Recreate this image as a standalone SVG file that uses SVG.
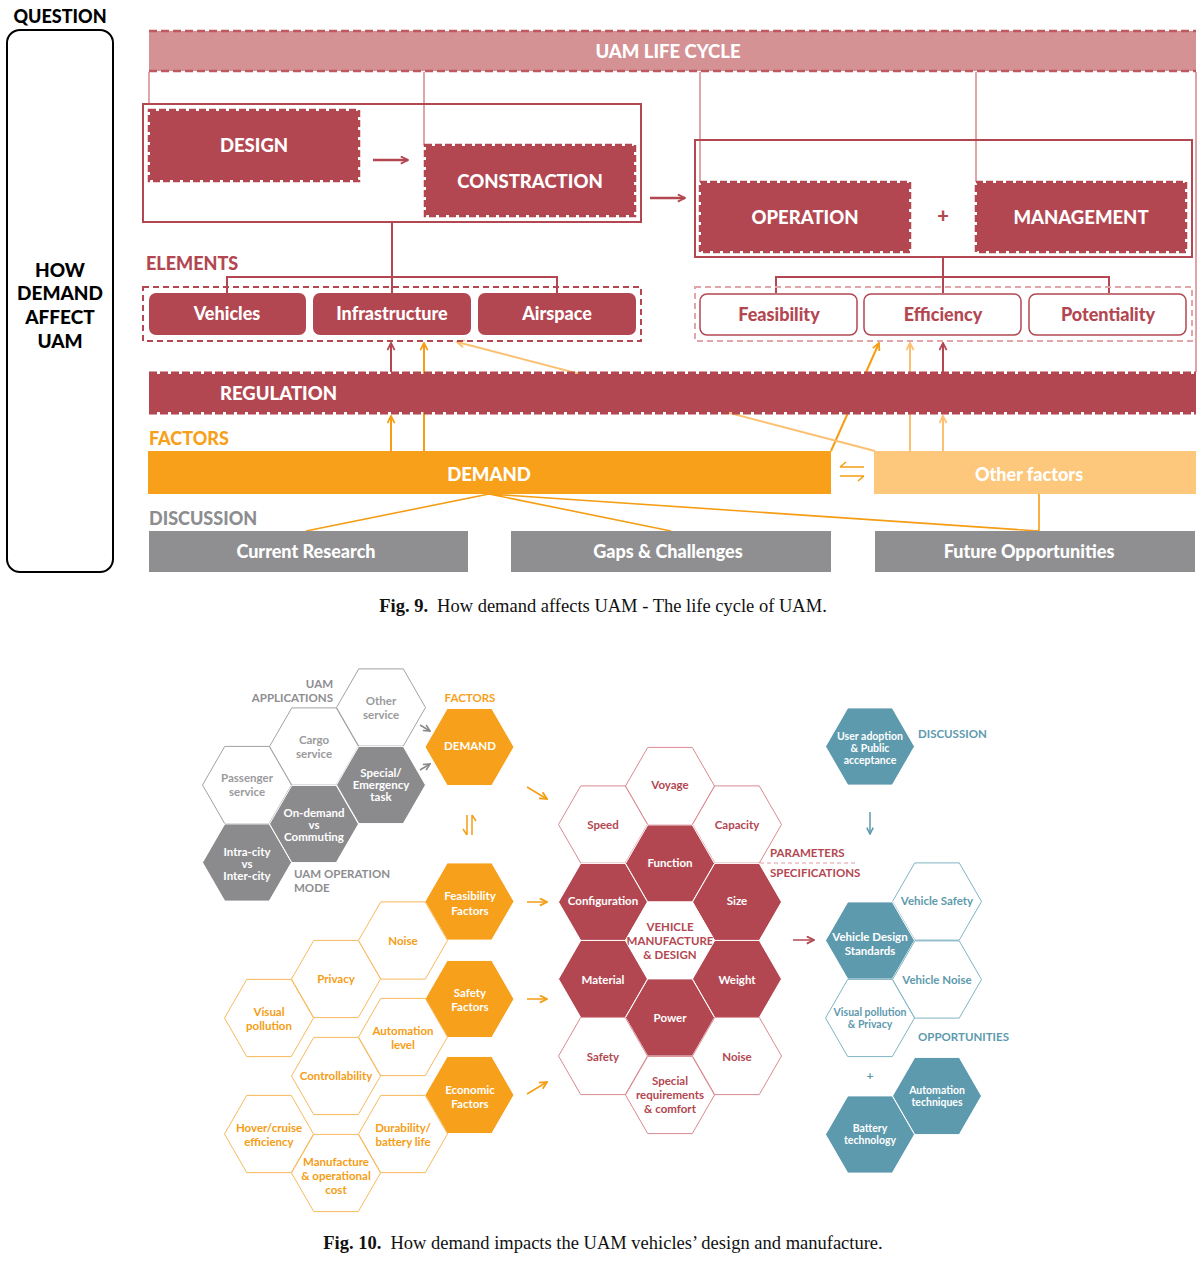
<svg xmlns="http://www.w3.org/2000/svg" width="1203" height="1261" viewBox="0 0 1203 1261">
<style>
.f{font-family:Lato,'Open Sans','DejaVu Sans',sans-serif;font-weight:700}
.k{font-weight:900}
.c{text-anchor:middle}
.big{font-size:18.5px}
.lb{font-size:18px}
.h{font-size:11.5px}
.hs{font-size:10.5px}
.w{fill:#fff}
.cap{font-family:'Liberation Serif','Times New Roman',serif;font-size:18.5px;fill:#111;text-anchor:middle}
.redbox{fill:#b34751}
.dashR{fill:none;stroke:#b34751;stroke-width:2.5;stroke-dasharray:7 3}
.thin{stroke:#d4898e;stroke-width:1.5;fill:none}
.hg-o{fill:#fff;stroke:#a2a2a4;stroke-width:1}
.hg-f{fill:#8b8b8e;stroke:#fff;stroke-width:1}
.ho-o{fill:#fff;stroke:#f8b95e;stroke-width:1}
.ho-f{fill:#f7a01c;stroke:#fff;stroke-width:1}
.hr-o{fill:#fff;stroke:#d98a91;stroke-width:1}
.hr-f{fill:#b34751;stroke:#fff;stroke-width:1}
.ht-o{fill:#fff;stroke:#7fb4c4;stroke-width:1}
.ht-f{fill:#5d9aad;stroke:#fff;stroke-width:1}
</style>
<defs>
<polygon id="hx" points="-44.5,0 -22.25,-38.6 22.25,-38.6 44.5,0 22.25,38.6 -22.25,38.6"/>
<marker id="aR" viewBox="0 0 10 10" refX="9" refY="5" markerWidth="9" markerHeight="9" orient="auto" markerUnits="userSpaceOnUse"><path d="M1,1 L9,5 L1,9" fill="none" stroke="#b34751" stroke-width="2"/></marker>
<marker id="aO" viewBox="0 0 10 10" refX="9" refY="5" markerWidth="9" markerHeight="9" orient="auto" markerUnits="userSpaceOnUse"><path d="M1,1 L9,5 L1,9" fill="none" stroke="#f59d14" stroke-width="2"/></marker>
<marker id="aL" viewBox="0 0 10 10" refX="9" refY="5" markerWidth="9" markerHeight="9" orient="auto" markerUnits="userSpaceOnUse"><path d="M1,1 L9,5 L1,9" fill="none" stroke="#fcc070" stroke-width="2"/></marker>
<marker id="aG" viewBox="0 0 10 10" refX="9" refY="5" markerWidth="8" markerHeight="8" orient="auto" markerUnits="userSpaceOnUse"><path d="M1,1 L9,5 L1,9" fill="none" stroke="#8a8a8a" stroke-width="2"/></marker>
<marker id="aT" viewBox="0 0 10 10" refX="9" refY="5" markerWidth="8" markerHeight="8" orient="auto" markerUnits="userSpaceOnUse"><path d="M1,1 L9,5 L1,9" fill="none" stroke="#5d9aad" stroke-width="2"/></marker>
</defs>
<rect width="1203" height="1261" fill="#fff"/>

<!-- ================= FIG 9 ================= -->
<g id="question">
<text class="f k" x="60" y="23" font-size="18" text-anchor="middle" fill="#000">QUESTION</text>
<rect x="7" y="30" width="106" height="542" rx="13" fill="none" stroke="#000" stroke-width="2"/>
<text class="f k c" font-size="19" fill="#000"><tspan x="60" y="277">HOW</tspan><tspan x="60" y="300">DEMAND</tspan><tspan x="60" y="324">AFFECT</tspan><tspan x="60" y="348">UAM</tspan></text>
</g>

<g id="uam-life-cycle">
<rect x="149" y="31" width="1047" height="40" fill="#d59295"/>
<line x1="149" y1="31" x2="1196" y2="31" stroke="#c05860" stroke-width="2.5" stroke-dasharray="8 4"/>
<line x1="149" y1="71" x2="1196" y2="71" stroke="#c05860" stroke-width="2.5" stroke-dasharray="8 4"/>
<text class="f k c w big" x="668" y="58">UAM LIFE CYCLE</text>
</g>

<g id="connectors">
<line class="thin" x1="149" y1="72" x2="149" y2="104"/>
<line class="thin" x1="424" y1="72" x2="424" y2="145"/>
<line class="thin" x1="700" y1="72" x2="700" y2="182"/>
<line class="thin" x1="976" y1="72" x2="976" y2="182"/>
<line class="thin" x1="1196" y1="72" x2="1196" y2="372"/>
<line x1="373" y1="160" x2="408" y2="160" stroke="#b34751" stroke-width="2.5" marker-end="url(#aR)"/>
<line x1="650" y1="198" x2="685" y2="198" stroke="#b34751" stroke-width="2.5" marker-end="url(#aR)"/>
<path d="M392,222 V277 M227,293 V277 H557 V293 M392,277 V293" fill="none" stroke="#b34751" stroke-width="2"/>
<path d="M943,257 V277 M776,293 V277 H1109 V293 M943,277 V293" fill="none" stroke="#b34751" stroke-width="2"/>
<line x1="391" y1="372" x2="391" y2="343" stroke="#b34751" stroke-width="2" marker-end="url(#aR)"/>
<line x1="943" y1="372" x2="943" y2="343" stroke="#b34751" stroke-width="2" marker-end="url(#aR)"/>
<line x1="391" y1="451" x2="391" y2="416" stroke="#f59d14" stroke-width="2" marker-end="url(#aO)"/>
<line x1="424" y1="451" x2="424" y2="343" stroke="#f59d14" stroke-width="2" marker-end="url(#aO)"/>
<line x1="831" y1="451" x2="879" y2="343" stroke="#f59d14" stroke-width="2" marker-end="url(#aO)"/>
<line x1="875" y1="451" x2="457" y2="342" stroke="#fcc070" stroke-width="2" marker-end="url(#aL)"/>
<line x1="910" y1="451" x2="910" y2="343" stroke="#fcc070" stroke-width="2" marker-end="url(#aL)"/>
<line x1="943" y1="451" x2="943" y2="416" stroke="#fcc070" stroke-width="2" marker-end="url(#aL)"/>
<path d="M840,467 H864 M840,467 L846,462" fill="none" stroke="#f59d14" stroke-width="1.6"/>
<path d="M840,476 H864 M864,476 L858,481" fill="none" stroke="#f59d14" stroke-width="1.6"/>
<path d="M489,494 L306,531 M489,494 L671,531 M489,494 L1039,531 M1039,494 V531" fill="none" stroke="#f59d14" stroke-width="1.6"/>
</g>

<g id="group-design-construction">
<rect x="143" y="104" width="498" height="118" fill="none" stroke="#b34751" stroke-width="2"/>
</g>
<g id="node-design">
<rect class="redbox" x="150" y="111" width="208" height="69"/>
<rect class="dashR" x="149" y="110" width="210" height="71"/>
<text class="f k c w big" x="254" y="152">DESIGN</text>
</g>
<g id="node-constraction">
<rect class="redbox" x="426" y="146" width="208" height="69"/>
<rect class="dashR" x="425" y="145" width="210" height="71"/>
<text class="f k c w big" x="530" y="188">CONSTRACTION</text>
</g>

<g id="group-operation-management">
<rect x="695" y="140" width="497" height="117" fill="none" stroke="#b34751" stroke-width="2"/>
<text class="f k c" x="943" y="223" font-size="20" fill="#b34751">+</text>
</g>
<g id="node-operation">
<rect class="redbox" x="701" y="183" width="208" height="68"/>
<rect class="dashR" x="700" y="182" width="210" height="70"/>
<text class="f k c w big" x="805" y="224">OPERATION</text>
</g>
<g id="node-management">
<rect class="redbox" x="977" y="183" width="208" height="68"/>
<rect class="dashR" x="976" y="182" width="210" height="70"/>
<text class="f k c w big" x="1081" y="224">MANAGEMENT</text>
</g>

<g id="elements">
<text class="f k lb" x="146" y="270" fill="#b34751">ELEMENTS</text>
<rect x="143" y="287" width="498" height="54" fill="none" stroke="#b34751" stroke-width="2" stroke-dasharray="6 4"/>
</g>
<g id="node-vehicles"><rect x="149" y="293" width="157" height="42" rx="7" fill="#b34751"/><text class="f k c w lb" x="227" y="320">Vehicles</text></g>
<g id="node-infrastructure"><rect x="313" y="293" width="158" height="42" rx="7" fill="#b34751"/><text class="f k c w lb" x="392" y="320">Infrastructure</text></g>
<g id="node-airspace"><rect x="478" y="293" width="158" height="42" rx="7" fill="#b34751"/><text class="f k c w lb" x="557" y="320">Airspace</text></g>

<g id="criteria">
<rect x="695" y="287" width="497" height="54" fill="none" stroke="#e2a6aa" stroke-width="2" stroke-dasharray="6 4"/>
</g>
<g id="node-feasibility"><rect x="700" y="294" width="157" height="41" rx="7" fill="#fff" stroke="#b34751" stroke-width="1.5"/><text class="f k c lb" x="779" y="321" fill="#b34751">Feasibility</text></g>
<g id="node-efficiency"><rect x="864" y="294" width="157" height="41" rx="7" fill="#fff" stroke="#b34751" stroke-width="1.5"/><text class="f k c lb" x="943" y="321" fill="#b34751">Efficiency</text></g>
<g id="node-potentiality"><rect x="1029" y="294" width="157" height="41" rx="7" fill="#fff" stroke="#b34751" stroke-width="1.5"/><text class="f k c lb" x="1108" y="321" fill="#b34751">Potentiality</text></g>

<g id="node-regulation">
<rect x="149" y="374" width="1047" height="38" fill="#b34751"/>
<line x1="149" y1="373" x2="1196" y2="373" stroke="#b34751" stroke-width="3" stroke-dasharray="8 3"/>
<line x1="149" y1="413" x2="1196" y2="413" stroke="#b34751" stroke-width="3" stroke-dasharray="8 3"/>
<text class="f k w big" x="220" y="400">REGULATION</text>
</g>

<g id="factors">
<text class="f k lb" x="149" y="445" fill="#f7a01c">FACTORS</text>
</g>
<g id="node-demand"><rect x="148" y="451" width="683" height="43" fill="#f9a01b"/><text class="f k c w big" x="489" y="481">DEMAND</text></g>
<g id="node-other-factors"><rect x="874" y="451" width="322" height="43" fill="#fdc77c"/><text class="f k c w lb" x="1029" y="481">Other factors</text></g>

<g id="discussion">
<text class="f k lb" x="149" y="525" fill="#8d8d90">DISCUSSION</text>
</g>
<g id="node-current-research"><rect x="149" y="531" width="319" height="41" fill="#8f8f92"/><text class="f k c w lb" x="306" y="558">Current Research</text></g>
<g id="node-gaps"><rect x="511" y="531" width="320" height="41" fill="#8f8f92"/><text class="f k c w lb" x="668" y="558">Gaps &amp; Challenges</text></g>
<g id="node-future"><rect x="875" y="531" width="320" height="41" fill="#8f8f92"/><text class="f k c w lb" x="1029" y="558">Future Opportunities</text></g>

<text class="cap" x="603" y="612"><tspan font-weight="700">Fig. 9.</tspan><tspan dx="9">How demand affects UAM - The life cycle of UAM.</tspan></text>

<!-- ================= FIG 10 ================= -->
<g id="fig10-connectors">
<line x1="420" y1="725" x2="430" y2="731" stroke="#8a8a8a" stroke-width="1.5" marker-end="url(#aG)"/>
<line x1="420" y1="770" x2="430" y2="764" stroke="#8a8a8a" stroke-width="1.5" marker-end="url(#aG)"/>
<path d="M467,815 V835 M467,835 L463,829" fill="none" stroke="#f59d14" stroke-width="1.5"/>
<path d="M472,835 V815 M472,815 L476,821" fill="none" stroke="#f59d14" stroke-width="1.5"/>
<line x1="527" y1="787" x2="547" y2="799" stroke="#f59d14" stroke-width="1.5" marker-end="url(#aO)"/>
<line x1="527" y1="902" x2="547" y2="902" stroke="#f59d14" stroke-width="1.5" marker-end="url(#aO)"/>
<line x1="527" y1="999" x2="547" y2="999" stroke="#f59d14" stroke-width="1.5" marker-end="url(#aO)"/>
<line x1="527" y1="1094" x2="547" y2="1082" stroke="#f59d14" stroke-width="1.5" marker-end="url(#aO)"/>
<line x1="793" y1="940" x2="814" y2="940" stroke="#b34751" stroke-width="1.5" marker-end="url(#aR)"/>
<line x1="870" y1="812" x2="870" y2="834" stroke="#5d9aad" stroke-width="1.5" marker-end="url(#aT)"/>
<line x1="760" y1="863" x2="858" y2="863" stroke="#e09aa0" stroke-width="1" stroke-dasharray="4 3"/>
</g>

<g id="label-uam-applications"><text class="f h" text-anchor="end" fill="#8d8d90"><tspan x="333" y="688">UAM</tspan><tspan x="333" y="702">APPLICATIONS</tspan></text></g>
<g id="hex-other-service"><use href="#hx" x="381" y="707.5" class="hg-o"/><text class="f c h" fill="#9a9a9c"><tspan x="381" y="705">Other</tspan><tspan x="381" y="719">service</tspan></text></g>
<g id="hex-cargo-service"><use href="#hx" x="314" y="746.5" class="hg-o"/><text class="f c h" fill="#9a9a9c"><tspan x="314" y="744">Cargo</tspan><tspan x="314" y="758">service</tspan></text></g>
<g id="hex-passenger-service"><use href="#hx" x="247" y="785" class="hg-o"/><text class="f c h" fill="#9a9a9c"><tspan x="247" y="782">Passenger</tspan><tspan x="247" y="796">service</tspan></text></g>
<g id="hex-special"><use href="#hx" x="381" y="785" class="hg-f"/><text class="f c h w"><tspan x="381" y="777">Special/</tspan><tspan x="381" y="789">Emergency</tspan><tspan x="381" y="801">task</tspan></text></g>
<g id="hex-on-demand"><use href="#hx" x="314" y="824" class="hg-f"/><text class="f c h w"><tspan x="314" y="817">On-demand</tspan><tspan x="314" y="829">vs</tspan><tspan x="314" y="841">Commuting</tspan></text></g>
<g id="hex-intra-city"><use href="#hx" x="247" y="862.5" class="hg-f"/><text class="f c h w"><tspan x="247" y="856">Intra-city</tspan><tspan x="247" y="868">vs</tspan><tspan x="247" y="880">Inter-city</tspan></text></g>
<g id="label-uam-operation-mode"><text class="f h" fill="#8d8d90"><tspan x="294" y="878">UAM OPERATION</tspan><tspan x="294" y="892">MODE</tspan></text></g>

<g id="label-factors"><text class="f c h" x="470" y="702" fill="#f7a01c">FACTORS</text></g>
<g id="hex-demand"><use href="#hx" x="469.5" y="747" class="ho-f"/><text class="f c h w" x="470" y="750">DEMAND</text></g>
<g id="hex-feasibility-factors"><use href="#hx" x="469.5" y="901.5" class="ho-f"/><text class="f c h w"><tspan x="470" y="900">Feasibility</tspan><tspan x="470" y="915">Factors</tspan></text></g>
<g id="hex-noise-o"><use href="#hx" x="403" y="940.5" class="ho-o"/><text class="f c h" x="403" y="945" fill="#f59d14">Noise</text></g>
<g id="hex-privacy"><use href="#hx" x="336" y="979" class="ho-o"/><text class="f c h" x="336" y="983" fill="#f59d14">Privacy</text></g>
<g id="hex-visual-pollution"><use href="#hx" x="269" y="1018" class="ho-o"/><text class="f c h" fill="#f59d14"><tspan x="269" y="1016">Visual</tspan><tspan x="269" y="1030">pollution</tspan></text></g>
<g id="hex-safety-factors"><use href="#hx" x="469.5" y="999" class="ho-f"/><text class="f c h w"><tspan x="470" y="997">Safety</tspan><tspan x="470" y="1011">Factors</tspan></text></g>
<g id="hex-automation-level"><use href="#hx" x="403" y="1037" class="ho-o"/><text class="f c h" fill="#f59d14"><tspan x="403" y="1035">Automation</tspan><tspan x="403" y="1049">level</tspan></text></g>
<g id="hex-controllability"><use href="#hx" x="336" y="1076" class="ho-o"/><text class="f c h" x="336" y="1080" fill="#f59d14">Controllability</text></g>
<g id="hex-economic-factors"><use href="#hx" x="469.5" y="1095" class="ho-f"/><text class="f c h w"><tspan x="470" y="1094">Economic</tspan><tspan x="470" y="1108">Factors</tspan></text></g>
<g id="hex-durability"><use href="#hx" x="403" y="1134" class="ho-o"/><text class="f c h" fill="#f59d14"><tspan x="403" y="1132">Durability/</tspan><tspan x="403" y="1146">battery life</tspan></text></g>
<g id="hex-hover"><use href="#hx" x="269" y="1134" class="ho-o"/><text class="f c h" fill="#f59d14"><tspan x="269" y="1132">Hover/cruise</tspan><tspan x="269" y="1146">efficiency</tspan></text></g>
<g id="hex-manufacture-cost"><use href="#hx" x="336" y="1173" class="ho-o"/><text class="f c h" fill="#f59d14"><tspan x="336" y="1166">Manufacture</tspan><tspan x="336" y="1180">&amp; operational</tspan><tspan x="336" y="1194">cost</tspan></text></g>

<g id="hex-voyage"><use href="#hx" x="670" y="786" class="hr-o"/><text class="f c h" x="670" y="789" fill="#b34751">Voyage</text></g>
<g id="hex-speed"><use href="#hx" x="603" y="824.5" class="hr-o"/><text class="f c h" x="603" y="829" fill="#b34751">Speed</text></g>
<g id="hex-capacity"><use href="#hx" x="737" y="824.5" class="hr-o"/><text class="f c h" x="737" y="829" fill="#b34751">Capacity</text></g>
<g id="hex-function"><use href="#hx" x="670" y="863.5" class="hr-f"/><text class="f c h w" x="670" y="867">Function</text></g>
<g id="hex-configuration"><use href="#hx" x="603" y="902" class="hr-f"/><text class="f c h w" x="603" y="905">Configuration</text></g>
<g id="hex-size"><use href="#hx" x="737" y="902" class="hr-f"/><text class="f c h w" x="737" y="905">Size</text></g>
<g id="hex-vehicle-md"><use href="#hx" x="670" y="940.5" fill="#fff" stroke="#fff"/><text class="f c h" fill="#b34751"><tspan x="670" y="931">VEHICLE</tspan><tspan x="670" y="945">MANUFACTURE</tspan><tspan x="670" y="959">&amp; DESIGN</tspan></text></g>
<g id="hex-material"><use href="#hx" x="603" y="979" class="hr-f"/><text class="f c h w" x="603" y="984">Material</text></g>
<g id="hex-weight"><use href="#hx" x="737" y="979" class="hr-f"/><text class="f c h w" x="737" y="984">Weight</text></g>
<g id="hex-power"><use href="#hx" x="670" y="1017.5" class="hr-f"/><text class="f c h w" x="670" y="1022">Power</text></g>
<g id="hex-safety"><use href="#hx" x="603" y="1056" class="hr-o"/><text class="f c h" x="603" y="1061" fill="#b34751">Safety</text></g>
<g id="hex-noise-r"><use href="#hx" x="737" y="1056" class="hr-o"/><text class="f c h" x="737" y="1061" fill="#b34751">Noise</text></g>
<g id="hex-special-req"><use href="#hx" x="670" y="1095" class="hr-o"/><text class="f c h" fill="#b34751"><tspan x="670" y="1085">Special</tspan><tspan x="670" y="1099">requirements</tspan><tspan x="670" y="1113">&amp; comfort</tspan></text></g>
<g id="label-parameters"><text class="f h" fill="#b34751"><tspan x="770" y="857">PARAMETERS</tspan><tspan x="770" y="877">SPECIFICATIONS</tspan></text></g>

<g id="hex-user-adoption"><use href="#hx" x="870" y="746.5" class="ht-f"/><text class="f c hs w"><tspan x="870" y="740">User adoption</tspan><tspan x="870" y="752">&amp; Public</tspan><tspan x="870" y="764">acceptance</tspan></text></g>
<g id="label-discussion"><text class="f h" x="918" y="738" fill="#5d9aad">DISCUSSION</text></g>
<g id="hex-vehicle-safety"><use href="#hx" x="937" y="901.5" class="ht-o"/><text class="f c h" x="937" y="905" fill="#5d9aad">Vehicle Safety</text></g>
<g id="hex-vds"><use href="#hx" x="870" y="940.5" class="ht-f"/><text class="f c h w"><tspan x="870" y="941">Vehicle Design</tspan><tspan x="870" y="955">Standards</tspan></text></g>
<g id="hex-vehicle-noise"><use href="#hx" x="937" y="979.5" class="ht-o"/><text class="f c h" x="937" y="984" fill="#5d9aad">Vehicle Noise</text></g>
<g id="hex-visual-privacy"><use href="#hx" x="870" y="1018" class="ht-o"/><text class="f c hs" fill="#5d9aad"><tspan x="870" y="1016">Visual pollution</tspan><tspan x="870" y="1028">&amp; Privacy</tspan></text></g>
<g id="label-opportunities"><text class="f h" x="918" y="1041" fill="#5d9aad">OPPORTUNITIES</text><text class="f c" x="870" y="1080" font-size="12" fill="#5d9aad">+</text></g>
<g id="hex-automation-tech"><use href="#hx" x="937" y="1096" class="ht-f"/><text class="f c hs w"><tspan x="937" y="1094">Automation</tspan><tspan x="937" y="1106">techniques</tspan></text></g>
<g id="hex-battery"><use href="#hx" x="870" y="1134.5" class="ht-f"/><text class="f c hs w"><tspan x="870" y="1132">Battery</tspan><tspan x="870" y="1144">technology</tspan></text></g>

<text class="cap" x="603" y="1249"><tspan font-weight="700">Fig. 10.</tspan><tspan dx="9">How demand impacts the UAM vehicles’ design and manufacture.</tspan></text>
</svg>
